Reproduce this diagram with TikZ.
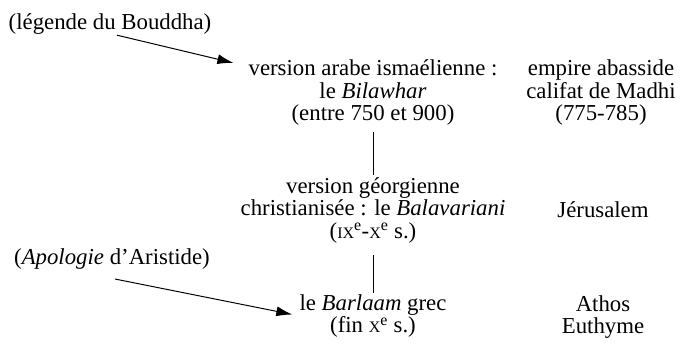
\documentclass[tikz,border=0pt]{standalone}
\usepackage{fontspec}
\setmainfont{Liberation Serif}
\usetikzlibrary{arrows.meta}
% small capitals for roman numerals (faked by size, the font has no smcp)
\newcommand{\petcap}[1]{{\fontsize{16pt}{16pt}\selectfont #1}}
\begin{document}
\begin{tikzpicture}[x=1pt,y=-1pt,
  txt/.style={font=\fontsize{22.8pt}{22.5pt}\selectfont, align=center, inner sep=0pt},
  link/.style={line width=1pt},
  feed/.style={line width=1pt, -{Latex[length=16pt,width=10pt]}}]
\useasboundingbox (0,0) rectangle (683,345);

% sources on the left
\node[txt] (legend) at (110,23.6) {(légende du Bouddha)};
\node[txt] (apol) at (112,259.5) {(\textit{Apologie} d’Aristide)};

% chain of versions
\node[txt] (top) at (373,93) {version arabe ismaélienne :\\le \textit{Bilawhar}\\(entre 750 et 900)};
\node[txt] (mid) at (373,210) {version géorgienne\\christianisée : le \textit{Balavariani}\\(\petcap{IX}\textsuperscript{e}-\petcap{X}\textsuperscript{e} s.)};
\node[txt] (bot) at (373,316) {le \textit{Barlaam} grec\\(fin \petcap{X}\textsuperscript{e} s.)};

% places and contexts
\node[txt] (ctx1) at (601,93) {empire abasside\\califat de Madhi\\(775-785)};
\node[txt] (ctx2) at (603,210) {Jérusalem};
\node[txt] (ctx3) at (603,317) {Athos\\Euthyme};

% filiation
\draw[link, shorten <=6pt, shorten >=2pt] (top.south) -- (mid.north);
\draw[link, shorten <=12pt, shorten >=1pt] (mid.south) -- (bot.north);

% influences
\coordinate (s1) at ([shift={(7pt,-1pt)}]legend.south);
\coordinate (e1) at ([shift={(-15pt,-3pt)}]top.north west);
\draw[feed] (s1) -- (e1);
\coordinate (s2) at ([shift={(3pt,-9pt)}]apol.south);
\coordinate (e2) at ([shift={(-7pt,1.5pt)}]bot.west);
\draw[feed] (s2) -- (e2);
\end{tikzpicture}
\end{document}
